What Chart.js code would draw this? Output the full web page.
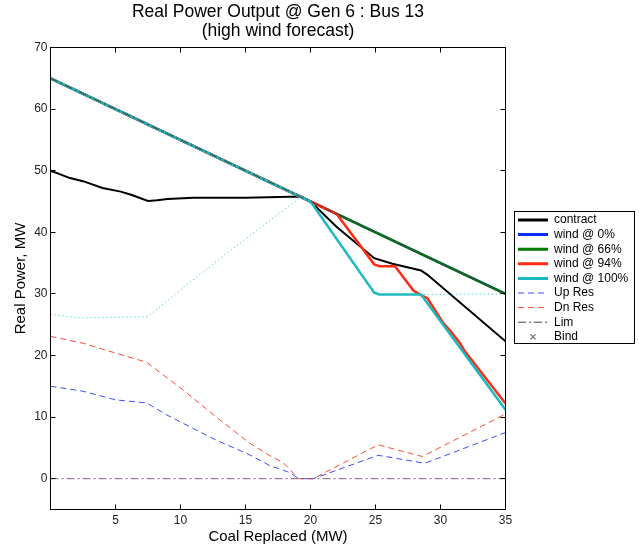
<!DOCTYPE html>
<html><head><meta charset="utf-8">
<script src="https://cdn.jsdelivr.net/npm/chart.js@4.4.1/dist/chart.umd.min.js"></script>
<style>html,body{margin:0;padding:0;background:#fff}canvas{display:block}</style>
</head><body>
<canvas id="c" width="639" height="548"></canvas>
<script>
// ---- data ----
const titleLines = ['Real Power Output @ Gen 6 : Bus 13', '(high wind forecast)'];
const xTitle = 'Coal Replaced (MW)';
const yTitle = 'Real Power, MW';
const xTicks = [5, 10, 15, 20, 25, 30, 35];
const yTicks = [0, 10, 20, 30, 40, 50, 60, 70];

const contractX = [0, 0.5, 1.5, 2.5, 4, 5.4, 6.2, 7.5, 8.2, 9, 11, 15, 19.3, 20, 22, 24.9, 26.3, 28.5, 29, 35];
const contractY = [50, 49.6, 48.8, 48.3, 47.2, 46.6, 46.1, 45.1, 45.2, 45.4, 45.6, 45.6, 45.8, 45, 40.9, 35.8, 34.9, 33.8, 33.1, 22.3];

const wind0X = [0, 35];
const wind0Y = [65, 30];
const wind66X = [0, 35];
const wind66Y = [65, 30];
const wind94X = [0, 20, 22, 24.9, 25.3, 26.5, 27.9, 28.4, 29, 30.2, 30.8, 31.5, 31.8, 35];
const wind94Y = [65, 45, 43, 34.8, 34.5, 34.5, 30.6, 29.9, 29.3, 25.3, 23.9, 22.0, 20.9, 12.2];
const wind100X = [0, 20, 24.9, 25.3, 28.5, 35];
const wind100Y = [65, 45, 30.2, 29.9, 29.9, 11.2];

const upResX = [0, 2.5, 5, 7.4, 8.9, 12.7, 15.3, 16.9, 18.4, 19.1, 20.2, 25.2, 28.8, 35];
const upResY = [15, 14.2, 12.8, 12.3, 10.4, 6.3, 3.9, 2.1, 1.0, 0, 0, 3.8, 2.5, 7.5];
const dnResX = [0, 2.5, 5, 7.4, 10.2, 12.7, 15.3, 16.9, 17.9, 19.1, 20.2, 25.2, 28.6, 35];
const dnResY = [23.1, 22.0, 20.4, 18.9, 14.4, 10.1, 5.8, 3.7, 2.6, 0, 0, 5.5, 3.6, 10.5];

const upLimX = [0, 35];
const upLimY = [65, 30];
const lowLimX = [0, 35];
const lowLimY = [0, 0];

const cyanUpX = [0, 2.2, 7.5, 10.2, 13.8, 19.3, 20, 24.9, 25.3, 28.5, 35];
const cyanUpY = [26.7, 26.1, 26.3, 31.0, 37.0, 45.8, 45, 30.2, 29.9, 29.9, 30];

// ---- helpers ----
const pts = (xs, ys) => xs.map((x, i) => ({x, y: ys[i]}));
const FONT = "'Liberation Sans', Arial, Helvetica, sans-serif";

// small "x" marker image for the Bind legend entry
const bindMark = document.createElement('canvas');
bindMark.width = 7; bindMark.height = 7;
(function () {
  const g = bindMark.getContext('2d');
  g.strokeStyle = '#000'; g.lineWidth = 1;
  g.beginPath();
  g.moveTo(1, 1); g.lineTo(6, 6);
  g.moveTo(6, 1); g.lineTo(1, 6);
  g.stroke();
})();

function lineDs(label, xs, ys, color, width, dash, extra) {
  return Object.assign({
    label, data: pts(xs, ys), borderColor: color, backgroundColor: color,
    borderWidth: width, borderDash: dash || [], pointRadius: 0, pointHoverRadius: 0,
    fill: false, tension: 0, legendWidth: width
  }, extra || {});
}

const datasets = [
  lineDs('contract', contractX, contractY, '#000000', 2, [], {legendWidth: 3}),
  lineDs('wind @ 0%', wind0X, wind0Y, '#0a2cff', 2.5, [], {legendWidth: 3}),
  lineDs('wind @ 66%', wind66X, wind66Y, '#007a00', 2.5, [], {legendWidth: 3}),
  lineDs('wind @ 94%', wind94X, wind94Y, '#ff2a10', 2.5, [], {legendWidth: 3}),
  lineDs('wind @ 100%', wind100X, wind100Y, '#1ab8c0', 2.5, [], {legendWidth: 3}),
  lineDs('Up Res', upResX, upResY, '#3a4cff', 1, [6, 4]),
  lineDs('Dn Res', dnResX, dnResY, '#ff4a30', 1, [6, 4]),
  lineDs('Lim', upLimX, upLimY, '#404040', 1, [8, 3, 2, 3]),
  {label: 'Bind', data: [], borderColor: '#000', backgroundColor: '#000', borderWidth: 1,
   showLine: false, pointRadius: 3, pointStyle: 'crossRot', legendStyle: bindMark, legendWidth: 1},
  lineDs('', cyanUpX, cyanUpY, '#3cc8cc', 1, [1.2, 2.8], {inLegend: false}),
  lineDs('', lowLimX, lowLimY, '#7b5a88', 1, [8, 3, 2, 3], {inLegend: false})
];
// later datasets drawn on top (MATLAB plotting order)
datasets.forEach((d, i) => { d.order = 100 - i; });

const framePlugin = {
  id: 'frame',
  beforeLayout(chart) {
    const lg = chart.legend;
    if (lg && !lg.__patched) {
      const f = lg.fit;
      lg.fit = function () { f.call(this); this.width = 133.5; };
      lg.__patched = true;
    }
  },
  afterLayout(chart) {
    const lg = chart.legend;
    if (lg) { lg.left = 515.4; lg.top = 211.4; }
  },
  afterDraw(chart) {
    const {ctx, chartArea: a, scales: {x, y}} = chart;
    ctx.save();
    ctx.strokeStyle = '#000';
    ctx.lineWidth = 1;
    ctx.setLineDash([]);
    ctx.strokeRect(a.left, a.top, a.right - a.left, a.bottom - a.top);
    const L = 5;
    ctx.beginPath();
    xTicks.forEach(v => {
      const px = Math.round(x.getPixelForValue(v) - 0.5) + 0.5;
      ctx.moveTo(px, a.bottom); ctx.lineTo(px, a.bottom - L);
      ctx.moveTo(px, a.top); ctx.lineTo(px, a.top + L);
    });
    yTicks.forEach(v => {
      const py = Math.round(y.getPixelForValue(v) - 0.5) + 0.5;
      ctx.moveTo(a.left, py); ctx.lineTo(a.left + L, py);
      ctx.moveTo(a.right, py); ctx.lineTo(a.right - L, py);
    });
    ctx.stroke();
    // legend frame
    ctx.strokeRect(514.5, 211.5, 120, 132);
    ctx.restore();
  }
};

new Chart(document.getElementById('c'), {
  type: 'line',
  data: {datasets},
  plugins: [framePlugin],
  options: {
    responsive: false,
    animation: false,
    devicePixelRatio: 1,
    events: [],
    layout: {padding: 0},
    scales: {
      x: {
        type: 'linear', min: 0, max: 35,
        grid: {display: false, drawTicks: false},
        border: {display: false},
        ticks: {autoSkip: false, maxRotation: 0, padding: 4, color: '#222', font: {family: FONT, size: 12}},
        afterBuildTicks: s => { s.ticks = xTicks.map(v => ({value: v})); },
        afterFit: s => { s.height = 38.5; },
        title: {display: true, text: xTitle, color: '#000', font: {family: FONT, size: 15}, padding: {top: 0, bottom: 2}}
      },
      y: {
        type: 'linear', min: -5, max: 70,
        grid: {display: false, drawTicks: false},
        border: {display: false},
        ticks: {autoSkip: false, padding: 3, color: '#222', font: {family: FONT, size: 12}},
        afterBuildTicks: s => { s.ticks = yTicks.map(v => ({value: v})); },
        afterFit: s => { s.width = 50.5; },
        title: {display: true, text: yTitle, color: '#000', font: {family: FONT, size: 15}, padding: {top: 12, bottom: 0}}
      }
    },
    plugins: {
      tooltip: {enabled: false},
      title: {
        display: true, text: titleLines, color: '#000', fullSize: false,
        font: {family: FONT, size: 17.5, weight: 'normal', lineHeight: 1.09},
        padding: {top: 3, bottom: 6.35}
      },
      legend: {
        display: true, position: 'right', align: 'start',
        labels: {
          usePointStyle: true, pointStyleWidth: 30, boxHeight: 5, padding: 2.6,
          color: '#000', font: {family: FONT, size: 12},
          generateLabels(chart) {
            const out = [];
            chart.data.datasets.forEach((d, i) => {
              if (d.inLegend === false) return;
              out.push({
                text: d.label, fillStyle: d.borderColor, strokeStyle: d.borderColor,
                lineWidth: d.legendWidth, lineDash: d.borderDash || [], lineCap: 'butt',
                pointStyle: d.legendStyle || 'line', hidden: false, datasetIndex: i, fontColor: '#000'
              });
            });
            return out;
          }
        }
      }
    }
  }
});
</script>
</body></html>
